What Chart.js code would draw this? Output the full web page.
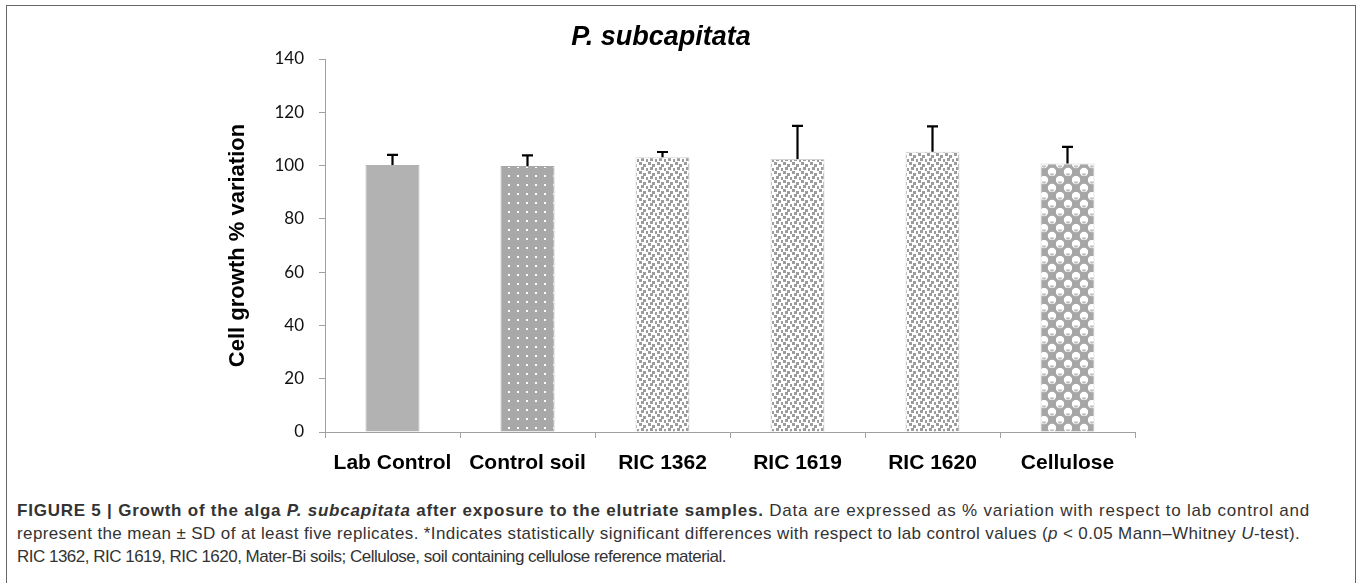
<!DOCTYPE html>
<html>
<head>
<meta charset="utf-8">
<script src="https://cdn.jsdelivr.net/npm/chart.js@4.4.1/dist/chart.umd.min.js"></script>
<style>
  html, body { margin: 0; padding: 0; background: #fff; }
  body { width: 1362px; height: 583px; position: relative; overflow: hidden; }
  #frame { position: absolute; left: 6px; top: 5px; width: 1350px; height: 600px;
           border: 1px solid #666; box-sizing: border-box; }
  #wrap { position: absolute; left: 0; top: 0; width: 1362px; height: 483px; }
  #title { position: absolute; left: 411px; width: 500px; top: 20px; text-align: center;
           font: italic bold 27px "Liberation Sans", Arial, sans-serif; color: #000; line-height: 32px; }
  .cap { position: absolute; left: 17px; white-space: nowrap; color: #333;
         font-family: "Liberation Sans", Arial, sans-serif; font-size: 17px; line-height: 20px; }
</style>
</head>
<body>
<div id="frame"></div>
<div id="wrap"><canvas id="c" width="1362" height="483"></canvas></div>
<div id="title"></div>
<div class="cap" id="cap1" style="top:501px"><b>FIGURE 5 | Growth of the alga <i>P. subcapitata</i> after exposure to the elutriate samples.</b> Data are expressed as % variation with respect to lab control and</div>
<div class="cap" id="cap2" style="top:524px">represent the mean ± SD of at least five replicates. *Indicates statistically significant differences with respect to lab control values (<i>p</i> &lt; 0.05 Mann–Whitney <i>U</i>-test).</div>
<div class="cap" id="cap3" style="top:547px">RIC 1362, RIC 1619, RIC 1620, Mater-Bi soils; Cellulose, soil containing cellulose reference material.</div>
<script>
const chartTitle = "P. subcapitata";
const categories = ["Lab Control", "Control soil", "RIC 1362", "RIC 1619", "RIC 1620", "Cellulose"];
const growthValues = [100.2, 99.8, 103.1, 102.5, 105.2, 100.8];
const growthSD = [3.8, 4.0, 2.0, 12.4, 9.5, 6.2];
const yTicks = [0, 20, 40, 60, 80, 100, 120, 140];
const yAxisTitle = "Cell growth % variation";

document.getElementById('title').textContent = chartTitle;

// fit caption lines to the reference line widths
[['cap1', 1293], ['cap2', 1283], ['cap3', 709]].forEach(([id, target]) => {
  const el = document.getElementById(id);
  const w = el.getBoundingClientRect().width;
  const n = el.textContent.length;
  el.style.letterSpacing = ((target - w) / n).toFixed(3) + 'px';
});

function makeTile(w, h, draw) {
  const t = document.createElement('canvas');
  t.width = w; t.height = h;
  draw(t.getContext('2d'));
  return t;
}
const ctx = document.getElementById('c').getContext('2d');

const solidGray = '#b2b2b2';
const dotPattern = ctx.createPattern(makeTile(9, 9, g => {
  g.fillStyle = '#a8a8a8'; g.fillRect(0, 0, 9, 9);
  g.fillStyle = '#ffffff'; g.fillRect(4, 4, 2, 2);
}), 'repeat');
const confettiPattern = ctx.createPattern(makeTile(9, 9, g => {
  g.fillStyle = '#ffffff'; g.fillRect(0, 0, 9, 9);
  g.fillStyle = '#9c9c9c';
  g.fillRect(0, 0, 3, 3);
  g.fillRect(4, 2, 3, 3);
  g.fillRect(2, 5, 3, 3);
  g.fillRect(7, 6, 2, 3);
}), 'repeat');
const spherePattern = ctx.createPattern(makeTile(16, 16, g => {
  g.fillStyle = '#a6a6a6'; g.fillRect(0, 0, 16, 16);
  g.fillStyle = '#ffffff';
  [[4, 4], [12, 12]].forEach(([x, y]) => {
    g.beginPath(); g.arc(x, y, 4.2, 0, Math.PI * 2); g.fill();
  });
  g.fillStyle = '#bdbdbd';
  [[4, 5.5], [12, 13.5]].forEach(([x, y]) => {
    g.beginPath(); g.arc(x, y, 2.2, 0, Math.PI); g.fill();
  });
}), 'repeat');

const fills = [solidGray, dotPattern, confettiPattern, confettiPattern, confettiPattern, spherePattern];
const borders = ['#b2b2b2', '#a8a8a8', '#d2d2d2', '#d2d2d2', '#d2d2d2', '#d2d2d2'];

const errorBars = {
  id: 'errorBars',
  afterDatasetsDraw(chart) {
    const meta = chart.getDatasetMeta(0);
    const ys = chart.scales.y;
    const c = chart.ctx;
    c.save();
    c.strokeStyle = '#000';
    c.lineWidth = 2.2;
    meta.data.forEach((el, i) => {
      const top = ys.getPixelForValue(growthValues[i] + growthSD[i]);
      c.beginPath();
      c.moveTo(el.x, el.y);
      c.lineTo(el.x, top);
      c.moveTo(el.x - 5.5, top);
      c.lineTo(el.x + 5.5, top);
      c.stroke();
    });
    c.restore();
  }
};

new Chart(ctx, {
  type: 'bar',
  data: {
    labels: categories,
    datasets: [{
      data: growthValues,
      backgroundColor: fills,
      borderColor: borders,
      borderWidth: 1,
      categoryPercentage: 1.0,
      barPercentage: 0.4
    }]
  },
  options: {
    responsive: false,
    animation: false,
    layout: { padding: { top: 59, right: 227, bottom: 0, left: 0 } },
    plugins: { legend: { display: false }, tooltip: { enabled: false }, title: { display: false } },
    scales: {
      x: {
        afterFit(s) { s.height = 51; },
        grid: { display: true, drawOnChartArea: false, offset: true, tickLength: 6, color: '#a0a0a0' },
        border: { display: true, color: '#a0a0a0', width: 1 },
        ticks: { color: '#000', padding: 13, font: { family: 'Liberation Sans', weight: 'bold', size: 21 } }
      },
      y: {
        min: 0, max: 140,
        afterFit(s) { s.width = 325; },
        afterBuildTicks(s) { s.ticks = yTicks.map(v => ({ value: v })); },
        grid: { display: true, drawOnChartArea: false, tickLength: 6, color: '#a0a0a0' },
        border: { display: true, color: '#a0a0a0', width: 1 },
        ticks: { color: '#111', padding: 15, font: { family: 'Lato', size: 17 } },
        title: {
          display: true, text: yAxisTitle, color: '#000',
          padding: { top: 225, bottom: 0 },
          font: { family: 'Liberation Sans', weight: 'bold', size: 22 }
        }
      }
    }
  },
  plugins: [errorBars]
});
</script>
</body>
</html>
